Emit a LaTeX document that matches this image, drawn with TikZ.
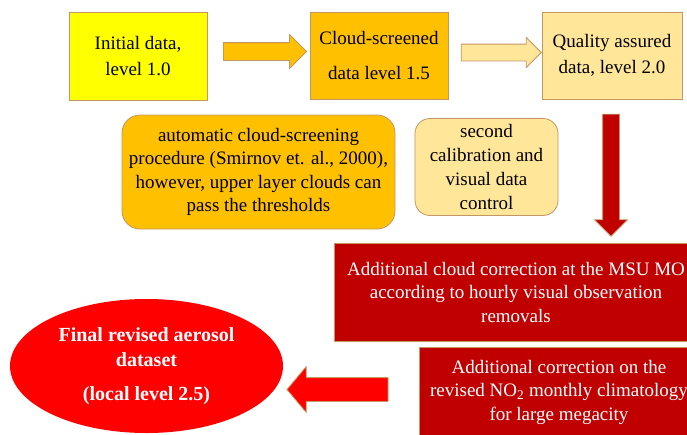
\documentclass[tikz,border=0pt]{standalone}
\usepackage{fontspec}
\setmainfont{Liberation Serif}
\usetikzlibrary{shapes.arrows,shapes.geometric}
\definecolor{cyel}{HTML}{FFFF00}
\definecolor{corange}{HTML}{FFC000}
\definecolor{cpeach}{HTML}{FFE699}
\definecolor{cdred}{HTML}{C00000}
\definecolor{cred}{HTML}{FF0000}
\definecolor{cbord}{RGB}{196,150,100}
\begin{document}
\begin{tikzpicture}[x=1pt,y=-1pt,
  box/.style={draw=cbord, line width=0.8pt, inner sep=0pt, align=center,
    font=\fontsize{19}{26}\selectfont},
  rbox/.style={box, rounded corners=18pt, font=\fontsize{19}{23.5}\selectfont},
  redbox/.style={box, fill=cdred, text=white, font=\fontsize{19}{23.5}\selectfont},
  blockarrow/.style={single arrow, draw=cbord, line width=0.8pt, inner xsep=0pt,
    minimum width=0pt, single arrow tip angle=90}
]
\useasboundingbox (0,0) rectangle (687,434);
\clip (0,0) rectangle (687,434);
\fill[white] (0,0) rectangle (687,434);

% top row
\node[box, fill=cyel, minimum width=138, minimum height=88] (b1) at (138,56)
  {Initial data,\\level 1.0};
\node[box, fill=corange, minimum width=138, minimum height=87] (b2) at (379,55.5)
  {Cloud-screened\\[9pt]data level 1.5};
\node[box, fill=cpeach, minimum width=140, minimum height=87] (b3) at (612,55.5)
  {Quality assured\\data, level 2.0};

\node[blockarrow, fill=corange, minimum height=83, inner ysep=8.5pt,
  single arrow head extend=8pt] (a1) at (260.5,51.5) {};
\node[blockarrow, fill=cpeach, minimum height=80, inner ysep=8pt,
  single arrow head extend=6.5pt] (a2) at (497,52.5) {};

% middle row
\node[rbox, fill=corange, minimum width=273, minimum height=114] (p1) at (258.5,172)
  {automatic cloud-screening\\procedure (Smirnov et. al., 2000),\\however, upper layer clouds can\\pass the thresholds};
\node[rbox, fill=cpeach, rounded corners=15pt, minimum width=143, minimum height=97,
  font=\fontsize{19}{24}\selectfont] (p2) at (486.5,167)
  {second\\calibration and\\visual data\\control};

\node[blockarrow, fill=cdred, minimum height=122, inner xsep=8pt, inner ysep=0pt,
  single arrow head extend=8pt, shape border rotate=270] (a3) at (611,171) {};

% red boxes
\node[redbox, minimum width=364, minimum height=98] (r1) at (516,292)
  {Additional cloud correction at the MSU MO\\according to hourly visual observation\\removals};
\node[redbox, minimum width=280, minimum height=90] (r2) at (559,392)
  {Additional correction on the\\revised NO\textsubscript{2} monthly climatology\\for large megacity};

\node[blockarrow, fill=cred, minimum height=101, inner ysep=11.5pt,
  single arrow head extend=11pt, single arrow tip angle=100,
  shape border rotate=180] (a4) at (342.5,389.5) {};

\node[ellipse, fill=cred, minimum width=273, minimum height=134, inner sep=0pt,
  text=white, align=center, font=\bfseries\fontsize{20}{25}\selectfont] (fin) at (146.5,366)
  {Final revised aerosol\\dataset\\[9pt](local level 2.5)};
\end{tikzpicture}
\end{document}
